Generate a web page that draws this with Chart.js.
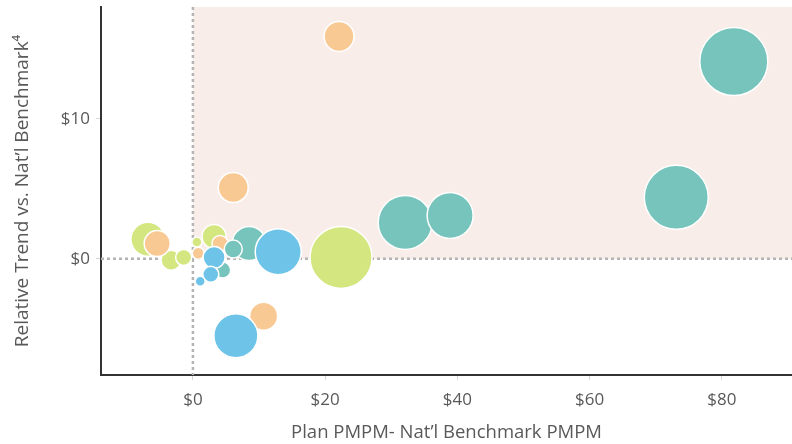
<!DOCTYPE html>
<html>
<head>
<meta charset="utf-8">
<script src="https://cdn.jsdelivr.net/npm/chart.js@4/dist/chart.umd.min.js"></script>
<style>
  html, body { margin: 0; padding: 0; background: #fff; }
  #wrap { width: 792px; height: 444px; }
</style>
</head>
<body>
<div id="wrap"><canvas id="bubble-chart"></canvas></div>
<script>
// values: x = plan PMPM minus benchmark, y = relative trend, size = bubble size
const blueX = [12.9, 6.5, 3.2, 2.7, 1.1];
const blueY = [0.5, -5.5, 0.1, -1.1, -1.6];
const blueSize = [23, 22, 11, 8, 5];

const tealX = [81.8, 73.1, 32.1, 38.9, 8.5, 6.1, 4.5];
const tealY = [14.1, 4.4, 2.6, 3.1, 1.1, 0.7, -0.8];
const tealSize = [34, 32, 27, 23, 17, 9, 8];

const orangeX = [22.1, 6.1, -5.4, 10.7, 4.1, 0.8];
const orangeY = [15.9, 5.1, 1.1, -4.1, 1.1, 0.4];
const orangeSize = [15, 15, 13, 14, 8, 6];

const greenX = [22.4, -6.8, -3.3, -1.4, 3.2, 0.6];
const greenY = [0.1, 1.4, -0.1, 0.1, 1.6, 1.2];
const greenSize = [31, 17, 10, 8, 12, 5];

const xTicks = [0, 20, 40, 60, 80];
const yTicks = [0, 10];

function makePoints(xs, ys, sizes) {
    const pts = [];
    for (let i = 0; i < xs.length; i++)
        pts.push({ x: xs[i], y: ys[i], r: sizes[i] });
    // big ones first so small ones stay visible
    pts.sort((a, b) => b.r - a.r);
    return pts;
}

function makeSet(label, color, xs, ys, sizes) {
    return {
        label: label,
        data: makePoints(xs, ys, sizes),
        backgroundColor: color,
        borderColor: '#ffffff',
        borderWidth: 1.5,
        hoverBorderWidth: 1.5
    };
}

// first dataset ends up on top in Chart.js
const datasets = [
    makeSet('Blue', '#6ec4e8', blueX, blueY, blueSize),
    makeSet('Teal', '#77c4bd', tealX, tealY, tealSize),
    makeSet('Orange', '#f9c994', orangeX, orangeY, orangeSize),
    makeSet('Green', '#d4e67f', greenX, greenY, greenSize)
];

const quadrantPlugin = {
    id: 'quadrant',
    beforeDatasetsDraw(chart) {
        const ctx = chart.ctx;
        const area = chart.chartArea;
        const x0 = chart.scales.x.getPixelForValue(0);
        const y0 = chart.scales.y.getPixelForValue(0);
        ctx.save();
        ctx.fillStyle = '#f8ede8';
        ctx.fillRect(x0, area.top, area.right - x0, y0 - area.top);
        ctx.strokeStyle = '#b4b4b4';
        ctx.lineWidth = 2.5;
        ctx.setLineDash([3, 3]);
        ctx.beginPath();
        ctx.moveTo(x0, area.top);
        ctx.lineTo(x0, area.bottom);
        ctx.moveTo(area.left, y0);
        ctx.lineTo(area.right, y0);
        ctx.stroke();
        ctx.restore();
    }
};

const textColor = '#595959';
const fontFamily = "'Open Sans', sans-serif";

const config = {
    type: 'bubble',
    data: { datasets: datasets },
    plugins: [quadrantPlugin],
    options: {
        responsive: true,
        maintainAspectRatio: false,
        animation: false,
        layout: { autoPadding: false, padding: { top: 7, right: 0, left: 0, bottom: 0 } },
        plugins: {
            legend: { display: false },
            tooltip: { enabled: false }
        },
        scales: {
            x: {
                type: 'linear',
                min: -13.9,
                max: 90.6,
                afterFit: s => {
                    s.height = 69;
                    s.paddingLeft = 0;
                    s.paddingRight = 0;
                },
                afterBuildTicks: s => { s.ticks = xTicks.map(v => ({ value: v })); },
                grid: { display: true, drawOnChartArea: false, drawTicks: true, tickLength: 5, color: '#d6d6d6' },
                border: { display: true, color: '#333333', width: 2 },
                ticks: {
                    color: textColor,
                    font: { family: fontFamily, size: 17 },
                    padding: 10,
                    maxRotation: 0,
                    callback: v => '$' + v
                },
                title: {
                    display: true,
                    text: 'Plan PMPM- Nat’l Benchmark PMPM',
                    color: textColor,
                    font: { family: fontFamily, size: 18.5 },
                    padding: { top: 0, bottom: 0 }
                }
            },
            y: {
                type: 'linear',
                min: -8.3,
                max: 18,
                afterFit: s => {
                    s.width = 101;
                    s.paddingTop = 0;
                    s.paddingBottom = 0;
                },
                afterBuildTicks: s => { s.ticks = yTicks.map(v => ({ value: v })); },
                grid: { display: true, drawOnChartArea: false, drawTicks: true, tickLength: 5, color: '#d6d6d6' },
                border: { display: true, color: '#333333', width: 2 },
                ticks: {
                    color: textColor,
                    font: { family: fontFamily, size: 17 },
                    padding: 6,
                    callback: v => '$' + v
                },
                title: {
                    display: true,
                    text: 'Relative Trend vs. Nat’l Benchmark⁴',
                    color: textColor,
                    font: { family: fontFamily, size: 19 },
                    padding: { top: 11, bottom: 0 }
                }
            }
        }
    }
};

let ctx = document.getElementById('bubble-chart').getContext('2d');
new Chart(ctx, config);
</script>
</body>
</html>
